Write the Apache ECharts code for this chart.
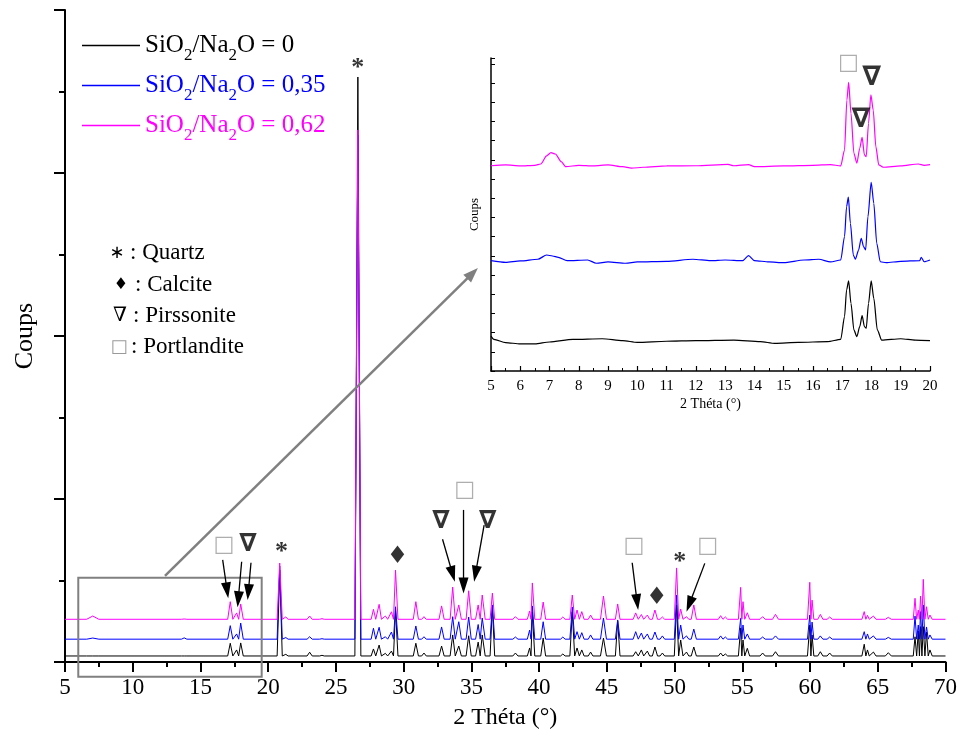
<!DOCTYPE html>
<html><head><meta charset="utf-8">
<script src="https://cdn.jsdelivr.net/npm/echarts@6/dist/echarts.min.js"></script>
<style>html,body{margin:0;padding:0;background:#fff}#c{width:960px;height:737px}</style>
</head><body><div id="c"></div>
<script>
// ---------------- DATA ----------------
const ratios = ['0', '0,35', '0,62'];
const seriesNames = ratios.map(r => 'SiO2/Na2O = ' + r);

// Main diffractogram: peak positions (2θ), half base width (°) and apex counts per sample
const peakPos = [7.05,13.8,17.2,17.67,17.97,20.85,21.3,23.06,23.97,26.62,
  27.77,28.19,28.65,29.1,29.4,30.9,31.5,32.8,33.62,34.07,
  34.8,35.5,35.8,36.55,38.25,39.3,39.5,40.3,41.75,42.45,
  42.8,43.15,43.8,44.75,45.8,47.13,47.55,47.99,48.55,49.1,
  50.15,50.45,50.88,51.42,53.4,53.75,54.88,55.05,55.37,56.5,
  57.45,59.98,60.15,60.76,61.45,64.0,64.24,64.68,65.78,67.75,
  67.99,68.16,68.36,68.6,68.85];
const peakHalfWidth = [0.45,0.2,0.19,0.19,0.19,0.19,0.17,0.19,0.17,0.22,
  0.17,0.17,0.17,0.17,0.18,0.19,0.17,0.19,0.19,0.19,
  0.19,0.19,0.22,0.17,0.19,0.17,0.18,0.18,0.17,0.18,
  0.17,0.17,0.17,0.22,0.17,0.19,0.17,0.17,0.19,0.17,
  0.17,0.17,0.17,0.19,0.17,0.17,0.17,0.13,0.17,0.19,
  0.22,0.17,0.13,0.19,0.19,0.17,0.13,0.19,0.22,0.13,
  0.13,0.13,0.13,0.13,0.17];
const baseBlack = 37, baseBlue = 140, basePink = 262;
const peakBlack = [37,37,115,74,117,564,47,60,41,3589,
  80,104,53,67,319,115,55,98,166,98,
  161,122,166,337,55,86,307,147,49,307,
  86,74,61,147,253,63,74,67,92,55,
  350,135,61,92,55,49,209,135,84,55,
  63,227,166,63,55,109,74,61,57,155,
  190,217,217,184,74];
const peakBlue = [147,148,223,172,239,589,150,155,143,3233,
  207,213,155,184,339,221,155,215,278,247,
  276,230,270,350,153,196,344,247,153,337,
  186,180,166,270,258,186,178,172,184,160,
  411,227,160,202,160,153,268,227,172,153,
  160,288,245,160,153,186,172,160,151,282,
  227,309,350,215,166];
const peakPink = [282,264,370,301,356,607,276,282,266,3264,
  323,354,282,308,564,370,278,344,460,350,
  437,350,411,423,278,313,485,368,276,411,
  319,309,288,405,356,301,291,288,319,276,
  577,325,278,350,284,276,458,370,302,278,
  292,489,380,292,276,309,286,282,274,391,
  319,405,507,339,288];

// Inset (5–20°), stacked counts
const insetBlack = [[5,1.82],[5.1,1.65],[5.5,1.48],[6,1.41],[6.5,1.41],[7,1.51],[7.8,1.65],[8.8,1.68],[9.5,1.58],[10,1.49],[11,1.55],[12,1.58],[13.3,1.61],[14.2,1.53],[14.7,1.44],[15.5,1.49],[16.5,1.53],[16.95,1.65],[17.08,2.83],[17.15,4.22],[17.22,4.69],[17.3,3.52],[17.4,2.14],[17.5,1.79],[17.6,2.31],[17.68,2.88],[17.76,2.31],[17.82,2.22],[17.9,3.52],[17.99,4.69],[18.08,3.78],[18.2,2.14],[18.35,1.61],[19,1.68],[19.5,1.61],[20,1.58]];
const insetBlue = [[5,5.75],[5.5,5.66],[6,5.73],[6.6,5.82],[6.9,6.04],[7.1,5.99],[7.3,5.92],[7.6,5.75],[8.3,5.78],[8.6,5.61],[9,5.68],[9.6,5.61],[10,5.68],[11,5.71],[11.9,5.82],[12.5,5.75],[13,5.78],[13.6,5.75],[13.8,6.01],[14,5.75],[14.5,5.68],[15,5.64],[15.7,5.78],[16.2,5.82],[16.6,5.68],[16.95,5.78],[17.08,7.0],[17.15,8.56],[17.21,9.05],[17.28,7.69],[17.38,6.04],[17.45,5.82],[17.56,6.3],[17.65,6.91],[17.73,6.48],[17.8,6.3],[17.88,8.04],[17.99,9.83],[18.08,8.73],[18.18,6.65],[18.3,5.69],[18.5,5.64],[19,5.71],[19.65,5.75],[19.7,5.92],[19.8,5.69],[20,5.78]];
const insetPink = [[5,10.69],[5.5,10.73],[6,10.68],[6.5,10.71],[6.7,10.78],[6.9,11.2],[7.05,11.37],[7.2,11.3],[7.4,10.9],[7.55,10.64],[8,10.71],[8.5,10.68],[9,10.73],[9.5,10.64],[9.8,10.56],[10.2,10.61],[11,10.68],[12,10.69],[13.1,10.76],[13.3,10.69],[13.8,10.75],[14,10.64],[15,10.68],[16,10.71],[16.6,10.75],[16.95,10.68],[17.08,11.51],[17.16,14.11],[17.22,15.03],[17.3,13.42],[17.4,11.34],[17.5,10.82],[17.6,11.6],[17.68,12.17],[17.76,11.25],[17.82,11.16],[17.9,12.9],[17.98,14.38],[18.06,13.59],[18.15,11.68],[18.25,10.73],[18.4,10.61],[19,10.68],[19.6,10.78],[19.8,10.71],[20,10.75]];

// Phase annotations (main chart, data coordinates)
const mainMarkerText = ['*','□','∇','*','♦','∇','□','∇','□','♦','*','□'];
const mainMarkerX = [26.62,16.73,18.5,20.99,29.55,32.75,34.5,36.2,46.99,48.69,50.39,52.45];
const mainMarkerY = [3681,718,718,712,644,859,1055,859,712,393,650,712];
// Arrows (main chart, data coordinates)
const arrowFrom = [[16.64,626],[18.04,615],[18.73,609],[32.87,753],[34.42,933],[35.94,840],[46.87,609],[52.23,605]];
const arrowTo   = [[17.05,391],[17.74,336],[18.48,380],[33.78,493],[34.42,421],[35.2,493],[47.31,319],[50.88,309]];
// Zoom box and connector (main chart, data coordinates)
const zoomBoxX = [5.98, 19.52];
const zoomBoxY = [-90, 517];
const connectorFrom = [12.38, 528];
const connectorTo = [35.48, 2417];
// Inset annotations (inset data coordinates)
const insetMarkerText = ['□','∇','∇'];
const insetMarkerX = [17.21, 18.01, 17.64];
const insetMarkerY = [16.02, 15.24, 13.07];
// Phase key
const phaseGlyphs = ['∗','♦','∇','□'];
const phaseNames = ['Quartz','Calcite','Pirssonite','Portlandite'];

// ---------------- BUILD ----------------
const FONT = '"Liberation Serif", "Times New Roman", serif';
const colors = ['#000000', '#0000ff', '#ff00ff'];

function buildPattern(base, heights) {
  const pts = [[5, base]];
  const n = peakPos.length;
  for (let i = 0; i < n; i++) {
    const p = peakPos[i], w = peakHalfWidth[i];
    const prev = i > 0 ? peakPos[i - 1] : -Infinity;
    const next = i < n - 1 ? peakPos[i + 1] : Infinity;
    const l = Math.max(p - w, (prev + p) / 2);
    const r = Math.min(p + w, (p + next) / 2);
    if (pts[pts.length - 1][0] < l) pts.push([l, base]);
    pts.push([p, heights[i]]);
    pts.push([r, base]);
  }
  pts.push([70, base]);
  return pts;
}
const mainData = [buildPattern(baseBlack, peakBlack), buildPattern(baseBlue, peakBlue), buildPattern(basePink, peakPink)];
const insetData = [insetBlack, insetBlue, insetPink];

function markerLabel(t, big) {
  if (t === '*') return {fontSize: 26, fontFamily: FONT, fontWeight: 'bold', color: '#000', offset: [0, 6]};
  if (t === '♦') return {fontSize: 24, fontFamily: 'DejaVu Sans', color: '#000'};
  if (t === '∇') return {fontSize: big ? 27 : 25, fontFamily: 'DejaVu Sans', fontWeight: 'bold', color: '#000'};
  return {fontSize: 22, fontFamily: 'DejaVu Sans', color: '#9a9a9a'};
}

const rich = {};
colors.forEach((c, i) => {
  rich['t' + i] = {fontFamily: FONT, fontSize: 25, lineHeight: 30, color: c};
  rich['s' + i] = {fontFamily: FONT, fontSize: 17, lineHeight: 2, padding: [20, 0, 0, 0], color: c};
});

const series = [];
mainData.forEach((d, i) => series.push({
  name: seriesNames[i], type: 'line', xAxisIndex: 0, yAxisIndex: 0, data: d,
  symbol: 'none', lineStyle: {color: colors[i], width: 1}, itemStyle: {color: colors[i]}, z: 2 + i
}));
insetData.forEach((d, i) => series.push({
  name: seriesNames[i], type: 'line', xAxisIndex: 1, yAxisIndex: 1, data: d,
  symbol: 'none', smooth: 0.25, smoothMonotone: 'x',
  lineStyle: {color: colors[i], width: 1.2}, itemStyle: {color: colors[i]}, z: 2 + i
}));
series.push({
  type: 'scatter', xAxisIndex: 0, yAxisIndex: 0, symbolSize: 1, silent: true, clip: false, z: 10,
  itemStyle: {color: 'transparent'},
  label: {show: true, position: 'inside', formatter: '{b}'},
  data: mainMarkerText.map((t, i) => ({name: t, value: [mainMarkerX[i], mainMarkerY[i]], label: markerLabel(t, false)}))
});
series.push({
  type: 'scatter', xAxisIndex: 1, yAxisIndex: 1, symbolSize: 1, silent: true, clip: false, z: 10,
  itemStyle: {color: 'transparent'},
  label: {show: true, position: 'inside', formatter: '{b}'},
  data: insetMarkerText.map((t, i) => ({name: t, value: [insetMarkerX[i], insetMarkerY[i]], label: markerLabel(t, true)}))
});

const option = {
  animation: false,
  backgroundColor: '#fff',
  grid: [
    {left: 65, right: 14, top: 10, bottom: 75},
    {left: 491, right: 30, top: 58, bottom: 366}
  ],
  legend: {
    orient: 'vertical', left: 77, top: 22, itemGap: 3, itemWidth: 58, itemHeight: 1.5,
    icon: 'rect', selectedMode: false,
    data: seriesNames,
    formatter: name => {
      const i = seriesNames.indexOf(name);
      return `{t${i}|SiO}{s${i}|2}{t${i}|/Na}{s${i}|2}{t${i}|O = ${ratios[i]}}`;
    },
    textStyle: {fontFamily: FONT, fontSize: 25, rich: rich}
  },
  xAxis: [
    {
      type: 'value', gridIndex: 0, min: 5, max: 70, interval: 5,
      name: '2 Théta (°)', nameLocation: 'middle', nameGap: 44,
      nameTextStyle: {fontFamily: FONT, fontSize: 24, color: '#000'},
      axisLine: {show: true, lineStyle: {color: '#000', width: 2}},
      axisTick: {show: true, length: 10, lineStyle: {color: '#000', width: 2}},
      minorTick: {show: true, splitNumber: 2, length: 5, lineStyle: {color: '#000', width: 2}},
      axisLabel: {fontFamily: FONT, fontSize: 23, color: '#000', margin: 14},
      splitLine: {show: false}, minorSplitLine: {show: false}
    },
    {
      type: 'value', gridIndex: 1, min: 5, max: 20, interval: 1,
      name: '2 Théta (°)', nameLocation: 'middle', nameGap: 26,
      nameTextStyle: {fontFamily: FONT, fontSize: 14, color: '#000'},
      axisLine: {show: true, lineStyle: {color: '#000', width: 1.5}},
      axisTick: {show: true, inside: true, length: 5, lineStyle: {color: '#000', width: 1.2}},
      minorTick: {show: true, splitNumber: 2, length: 3, lineStyle: {color: '#000', width: 1}},
      axisLabel: {fontFamily: FONT, fontSize: 15, color: '#000', margin: 8},
      splitLine: {show: false}, minorSplitLine: {show: false}
    }
  ],
  yAxis: [
    {
      type: 'value', gridIndex: 0, min: 0, max: 4000, interval: 1000,
      name: 'Coups', nameLocation: 'middle', nameGap: 27, nameRotate: 90,
      nameTextStyle: {fontFamily: FONT, fontSize: 26, color: '#000'},
      axisLine: {show: true, lineStyle: {color: '#000', width: 2}},
      axisTick: {show: true, length: 11, lineStyle: {color: '#000', width: 2}},
      minorTick: {show: true, splitNumber: 2, length: 6, lineStyle: {color: '#000', width: 2}},
      axisLabel: {show: false},
      splitLine: {show: false}, minorSplitLine: {show: false}
    },
    {
      type: 'value', gridIndex: 1, min: 0, max: 16.3, interval: 1,
      name: 'Coups', nameLocation: 'middle', nameGap: 10, nameRotate: 90,
      nameTextStyle: {fontFamily: FONT, fontSize: 13, color: '#000'},
      axisLine: {show: true, lineStyle: {color: '#000', width: 1.5}},
      axisTick: {show: true, inside: true, length: 4, lineStyle: {color: '#000', width: 1}},
      axisLabel: {show: false},
      splitLine: {show: false}
    }
  ],
  series: series
};

const chart = echarts.init(document.getElementById('c'), null, {renderer: 'canvas'});
chart.setOption(option);

// ---------------- ANNOTATION GRAPHICS ----------------
const toPx = p => chart.convertToPixel({gridIndex: 0}, p);
function arrow(from, to, color, width, headLen, headW) {
  const a = toPx(from), b = toPx(to);
  const dx = b[0] - a[0], dy = b[1] - a[1], L = Math.hypot(dx, dy);
  const ux = dx / L, uy = dy / L;
  const bx = b[0] - ux * headLen, by = b[1] - uy * headLen;
  return [
    {type: 'line', z: 100, shape: {x1: a[0], y1: a[1], x2: bx + ux * 2, y2: by + uy * 2}, style: {stroke: color, lineWidth: width}},
    {type: 'polygon', z: 100, shape: {points: [[b[0], b[1]], [bx - uy * headW / 2, by + ux * headW / 2], [bx + uy * headW / 2, by - ux * headW / 2]]}, style: {fill: color}}
  ];
}
const g = [];
arrowFrom.forEach((f, i) => g.push(...arrow(f, arrowTo[i], '#000', 1.3, 16, 10)));
const c1 = toPx([zoomBoxX[0], zoomBoxY[1]]), c2 = toPx([zoomBoxX[1], zoomBoxY[0]]);
g.push({type: 'rect', z: 90, shape: {x: c1[0], y: c1[1], width: c2[0] - c1[0], height: c2[1] - c1[1]}, style: {fill: 'none', stroke: '#808080', lineWidth: 2}});
g.push(...arrow(connectorFrom, connectorTo, '#808080', 2.5, 15, 11));

const phaseY = [253, 285, 316, 347];
const glyphX = [117, 121, 120, 119];
const labelX = [130, 135, 133, 131];
const glyphStyle = [
  {font: '18px "DejaVu Sans"', fill: '#000'},
  {font: '16px "DejaVu Sans"', fill: '#000'},
  {font: '20px "DejaVu Serif"', fill: '#000'},
  {font: '18px "DejaVu Sans"', fill: '#9a9a9a'}
];
phaseGlyphs.forEach((t, i) => {
  g.push({type: 'text', z: 100, x: glyphX[i], y: phaseY[i], style: Object.assign({text: t, align: 'center', verticalAlign: 'middle'}, glyphStyle[i])});
  g.push({type: 'text', z: 100, x: labelX[i], y: phaseY[i], style: {text: ': ' + phaseNames[i], font: '23px "Liberation Serif"', fill: '#000', align: 'left', verticalAlign: 'middle'}});
});
chart.setOption({graphic: {elements: g}});
</script>
</body></html>
